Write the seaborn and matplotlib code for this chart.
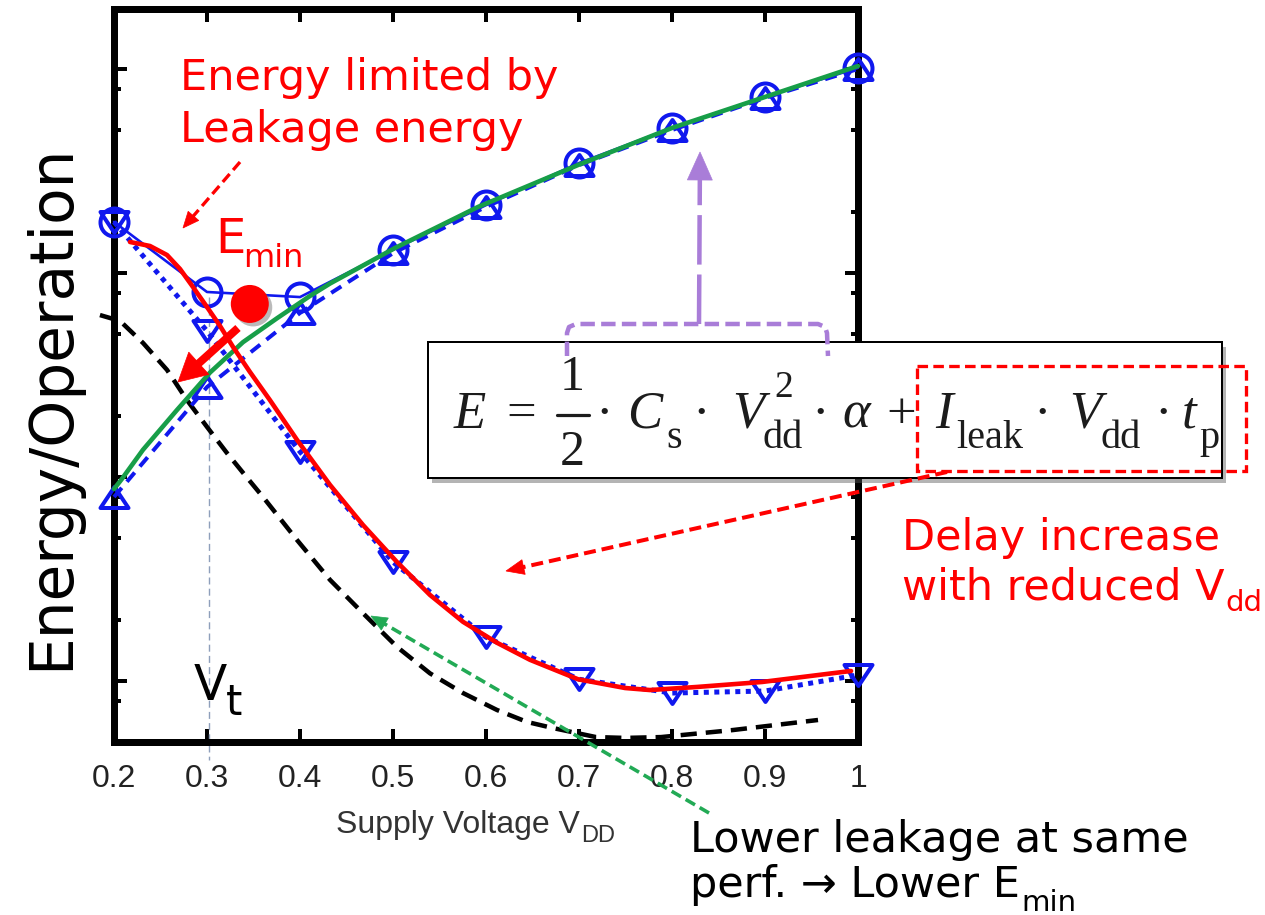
import matplotlib
matplotlib.use("Agg")
import matplotlib.pyplot as plt
import matplotlib.patheffects as pe
from matplotlib.patches import Rectangle, Polygon
from matplotlib.path import Path
from matplotlib.ticker import LogLocator, NullFormatter, NullLocator
import numpy as np
import seaborn as sns

# ---------------- data ----------------
vdd = [0.2, 0.3, 0.4, 0.5, 0.6, 0.7, 0.8, 0.9, 1.0]
energy_circles = [178, 80.7, 76.2, 130, 215, 346, 514, 730, 1012]
energy_up_tri = [7.98, 27.6, 63.7, 125, 211, 338, 502, 721, 1000]
energy_down_tri = [178, 52.0, 13.3, 3.83, 1.64, 1.02, 0.873, 0.893, 1.07]

red_fit_vdd = [0.2172, 0.2387, 0.2570, 0.2710, 0.2849, 0.3000, 0.3140, 0.3280,
               0.3462, 0.3677, 0.3968, 0.4323, 0.4677, 0.5043, 0.5398, 0.5753,
               0.6118, 0.6473, 0.6989, 0.7495, 0.7763, 0.8269, 0.8968, 0.9925]
red_fit_energy = [141.9, 135.6, 122.5, 104.6, 85.4, 68.1, 55.0, 43.4,
                  32.7, 23.8, 15.2, 9.14, 5.82, 3.83, 2.64, 1.95,
                  1.54, 1.27, 1.02, 0.924, 0.903, 0.935, 0.989, 1.12]

green_fit_vdd = [0.2, 0.2086, 0.2312, 0.2677, 0.3032, 0.3387, 0.3753, 0.4108,
                 0.4323, 0.5022, 0.5914, 0.6989, 0.8, 0.9, 1.0]
green_fit_energy = [8.73, 9.8, 13.6, 21.3, 32.5, 45.8, 60.0, 77.2,
                    88.8, 132.6, 210.7, 338.2, 514.0, 729.1, 1034]

low_leak_vdd = [0.1849, 0.2065, 0.2312, 0.2570, 0.2785, 0.3000, 0.3215, 0.3409,
                0.3602, 0.3968, 0.4323, 0.4677, 0.5043, 0.5398, 0.5753, 0.6118,
                0.6441, 0.6720, 0.7183, 0.7495, 0.7882, 0.8656, 0.9570]
low_leak_energy = [62.2, 58.2, 45.4, 33.5, 23.8, 17.6, 13.1, 10.2,
                   7.98, 4.91, 3.13, 2.15, 1.47, 1.09, 0.873, 0.721,
                   0.630, 0.588, 0.531, 0.526, 0.531, 0.575, 0.644]

emin_vdd = [0.346]
emin_energy = [70.5]
vt_vdd = [0.302, 0.302]
vt_energy = [76.0, 0.41]

x_ticks = [0.2, 0.3, 0.4, 0.5, 0.6, 0.7, 0.8, 0.9, 1.0]
x_tick_labels = ["0.2", "0.3", "0.4", "0.5", "0.6", "0.7", "0.8", "0.9", "1"]

# ---------------- styling ----------------
W, H = 1265, 915
BLUE = "#1018ee"
RED = "#ff0000"
GREEN = "#179e48"
PURPLE = "#a97dd8"
PX = 0.72  # points per pixel at dpi 100

sns.set_theme(style="white")
plt.rcParams["font.family"] = ["DejaVu Sans"]

fig = plt.figure(figsize=(W / 100, H / 100), dpi=100)
ax = fig.add_axes([114 / W, 1 - 742 / H, (858 - 114) / W, (742 - 9) / H])
ax.set_yscale("log")

down_tri = Path([(0, -0.75), (-1, 0.75), (1, 0.75), (0, -0.75)], closed=True)
up_tri = Path([(0, 0.75), (-1, -0.75), (1, -0.75), (0, 0.75)], closed=True)

sns.lineplot(x=low_leak_vdd, y=low_leak_energy, ax=ax, color="black",
             linewidth=4.5 * PX, linestyle=(0, (3.6, 2.0)), clip_on=False, zorder=3)
sns.lineplot(x=vdd, y=energy_down_tri, ax=ax, color=BLUE, linewidth=5 * PX,
             linestyle=(0, (1.0, 1.1)), marker=down_tri, markersize=28 * PX,
             markerfacecolor="none", markeredgecolor=BLUE, markeredgewidth=4 * PX,
             clip_on=False, zorder=4)
sns.lineplot(x=vdd, y=energy_up_tri, ax=ax, color=BLUE, linewidth=4 * PX,
             linestyle=(0, (3.0, 2.0)), marker=up_tri, markersize=28 * PX,
             markerfacecolor="none", markeredgecolor=BLUE, markeredgewidth=4 * PX,
             clip_on=False, zorder=4)
sns.lineplot(x=vdd, y=energy_circles, ax=ax, color=BLUE, linewidth=2.6 * PX,
             marker="o", markersize=28 * PX, markerfacecolor="none",
             markeredgecolor=BLUE, markeredgewidth=4 * PX, clip_on=False, zorder=4)
sns.lineplot(x=green_fit_vdd, y=green_fit_energy, ax=ax, color=GREEN,
             linewidth=4.6 * PX, clip_on=False, zorder=5)
sns.lineplot(x=red_fit_vdd, y=red_fit_energy, ax=ax, color=RED,
             linewidth=4.6 * PX, clip_on=False, zorder=6)
ax.plot(vt_vdd, vt_energy, color="#8e9fbb", linewidth=1.4 * PX,
        linestyle=(0, (5, 3)), clip_on=False, zorder=2)
sns.scatterplot(x=emin_vdd, y=emin_energy, ax=ax, color=RED, s=(38 * PX) ** 2,
                edgecolor="none", zorder=8, clip_on=False)
ax.collections[-1].set_path_effects([
    pe.SimplePatchShadow(offset=(2.5, -2.5), shadow_rgbFace="0.4", alpha=0.45),
    pe.Normal()])

ax.set_xlim(0.2, 1.0)
ax.set_ylim(10 ** -0.299, 10 ** 3.294)
ax.set_xticks(x_ticks)
ax.set_xticklabels(x_tick_labels, fontfamily="Liberation Sans", fontsize=23,
                   color="#222222")
ax.xaxis.set_minor_locator(NullLocator())
ax.yaxis.set_major_locator(LogLocator(base=10, numticks=12))
ax.yaxis.set_minor_locator(LogLocator(base=10, subs=(2, 5, 8), numticks=12))
ax.yaxis.set_major_formatter(NullFormatter())
ax.yaxis.set_minor_formatter(NullFormatter())
ax.tick_params(axis="both", which="both", direction="in", bottom=True, top=True,
               left=True, right=True, color="black")
ax.tick_params(which="major", length=13 * PX, width=4 * PX)
ax.tick_params(which="minor", length=7 * PX, width=4 * PX)
ax.tick_params(axis="x", pad=16)
for s in ax.spines.values():
    s.set_linewidth(7 * PX)
    s.set_color("black")
    s.set_zorder(3.5)

ax.set_xlabel("Supply Voltage V", fontfamily="Liberation Sans", fontsize=23,
              color="#333333")
ax.xaxis.label.set_ha("left")
ax.xaxis.label.set_va("baseline")
ax.xaxis.set_label_coords((336 - 114) / 744, (742 - 833) / 733)
ax.set_ylabel("Energy/Operation", fontsize=43, color="black", va="center")
ax.yaxis.set_label_coords((52 - 114) / 744, (742 - 407) / 733)

# ---------------- overlay in pixel coordinates for annotations ----------------
ov = fig.add_axes([0, 0, 1, 1], zorder=10)
ov.set_xlim(0, W)
ov.set_ylim(H, 0)
ov.axis("off")


def arrow(tail, tip, color, lw_px, head_len, head_w, ls=None, z=6):
    tail = np.array(tail, float)
    tip = np.array(tip, float)
    d = tip - tail
    d /= np.hypot(*d)
    n = np.array([-d[1], d[0]])
    base = tip - d * head_len
    end = tip - d * head_len * 0.6
    kw = dict(color=color, linewidth=lw_px * PX, zorder=z, solid_capstyle="butt")
    if ls is not None:
        kw["linestyle"] = ls
    ov.plot([tail[0], end[0]], [tail[1], end[1]], **kw)
    ov.add_patch(Polygon([tip, base + n * head_w / 2, base - n * head_w / 2],
                         closed=True, facecolor=color, edgecolor=color,
                         linewidth=0.5, zorder=z))


# equation box with shadow
ov.add_patch(Rectangle((428, 342), 794, 136, facecolor="white", edgecolor="black",
                       linewidth=2 * PX, zorder=2,
                       path_effects=[pe.SimplePatchShadow(offset=(3, -3.5),
                                                          shadow_rgbFace="0.35",
                                                          alpha=0.45),
                                     pe.Normal()]))

EQC = "#1c1c1c"


def eqt(xc, base, s, size=38, italic=False):
    ov.text(xc, base, s, fontfamily="Liberation Serif", fontsize=size,
            style="italic" if italic else "normal", ha="center", va="baseline",
            color=EQC, zorder=3)


# E = 1/2 · C_s · V_dd^2 · α + I_leak · V_dd · t_p
eqt(470, 428, "E", italic=True)
eqt(521, 428, "=")
eqt(572, 390, "1", size=36)
ov.plot([557, 589], [415, 415], color=EQC, linewidth=3.2 * PX, zorder=3)
eqt(572, 465, "2", size=36)
for xd in (604, 701, 820, 1042, 1163):
    eqt(xd, 428, "\u00b7")
eqt(645, 428, "C", italic=True)
eqt(674, 448, "s", size=29)
eqt(748, 428, "V", italic=True)
eqt(784, 397, "2", size=27)
eqt(783, 448, "dd", size=29)
eqt(856, 428, "\u03b1", italic=True)
eqt(901, 428, "+")
eqt(944, 428, "I", italic=True)
eqt(990, 448, "leak", size=29)
eqt(1085, 428, "V", italic=True)
eqt(1121, 448, "dd", size=29)
eqt(1189, 428, "t", italic=True)
eqt(1209, 448, "p", size=29)

ov.add_patch(Rectangle((917, 366), 329, 105, fill=False, edgecolor=RED,
                       linewidth=3.3 * PX, linestyle=(0, (3.2, 1.6)), zorder=4))

# purple bracket and arrow
ov.plot([567, 567, 569, 576, 818, 825, 827, 828], [356, 333, 327, 324, 324, 327, 333, 356],
        color=PURPLE, linewidth=4.5 * PX, linestyle=(0, (3.2, 1.4)), zorder=5)
arrow((699, 324), (700, 152), PURPLE, 4.5, 28, 25, ls=(0, (11, 2.2)), z=5)

# red dashed arrows
arrow((240, 162), (183, 228), RED, 3.3, 16, 14, ls=(0, (3.2, 1.6)))
arrow((947, 472), (506, 571), RED, 4.0, 18, 15, ls=(0, (3.0, 1.5)))
# green dashed arrow
arrow((709, 813), (371, 616), "#22aa55", 3.6, 16, 14, ls=(0, (3.0, 1.5)))
# thick red arrow from E_min
arrow((238, 328), (178, 382), RED, 8, 28, 30, z=7)

# texts
fs = 31
ov.text(180, 90, "Energy limited by", color=RED, fontsize=fs, va="baseline")
ov.text(180, 142, "Leakage energy", color=RED, fontsize=fs, va="baseline")
t_E = ov.text(215, 253, "E", color=RED, fontsize=34.5, va="baseline")
t_V = ov.text(194, 700, "V", color="black", fontsize=35, va="baseline")
ov.text(902, 550, "Delay increase", color=RED, fontsize=fs, va="baseline")
t_wr = ov.text(902, 600, "with reduced V", color=RED, fontsize=fs, va="baseline")
ov.text(690, 852, "Lower leakage at same", color="black", fontsize=fs, va="baseline")
t_lo = ov.text(690, 897, "perf. \u2192 Lower E", color="black", fontsize=fs,
               va="baseline")

fig.canvas.draw()
r = fig.canvas.get_renderer()


def right_px(t):
    return t.get_window_extent(renderer=r).x1


ov.text(right_px(t_E) - 2, 267, "min", color=RED, fontsize=23, va="baseline")
ov.text(right_px(t_V) - 1, 715, "t", color="black", fontsize=30, va="baseline")
ov.text(right_px(t_wr) + 1, 611, "dd", color=RED, fontsize=21, va="baseline")
ov.text(right_px(t_lo) + 1, 911, "min", color="black", fontsize=21, va="baseline")
ov.text(right_px(ax.xaxis.label) + 1, 842, "DD", fontfamily="Liberation Sans",
        fontsize=17, color="#333333", va="baseline")

fig.savefig("out.png", dpi=100)
